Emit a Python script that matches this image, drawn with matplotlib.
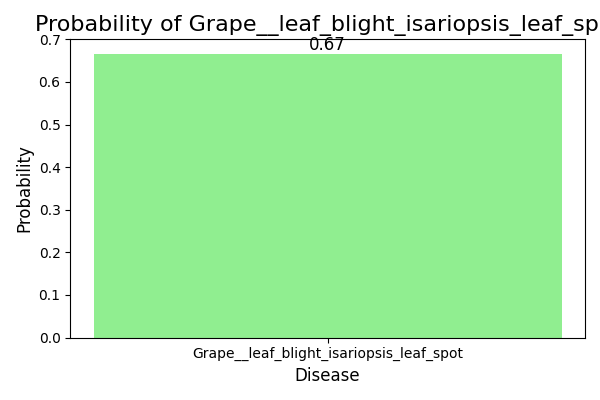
import matplotlib
matplotlib.use("Agg")
import matplotlib.pyplot as plt

diseases = ["Grape__leaf_blight_isariopsis_leaf_spot"]
probabilities = [0.6667]

fig = plt.figure(figsize=(6, 4), dpi=100)
bars = plt.bar(diseases, probabilities, color="lightgreen")
for b in bars:
    h = b.get_height()
    plt.text(b.get_x() + b.get_width() / 2, h, f"{h:.2f}", ha="center", va="bottom", fontsize=12)
plt.title(f"Probability of {diseases[0]}", fontsize=16)
plt.xlabel("Disease", fontsize=12)
plt.ylabel("Probability", fontsize=12)
plt.tight_layout()
plt.savefig("out.png")
